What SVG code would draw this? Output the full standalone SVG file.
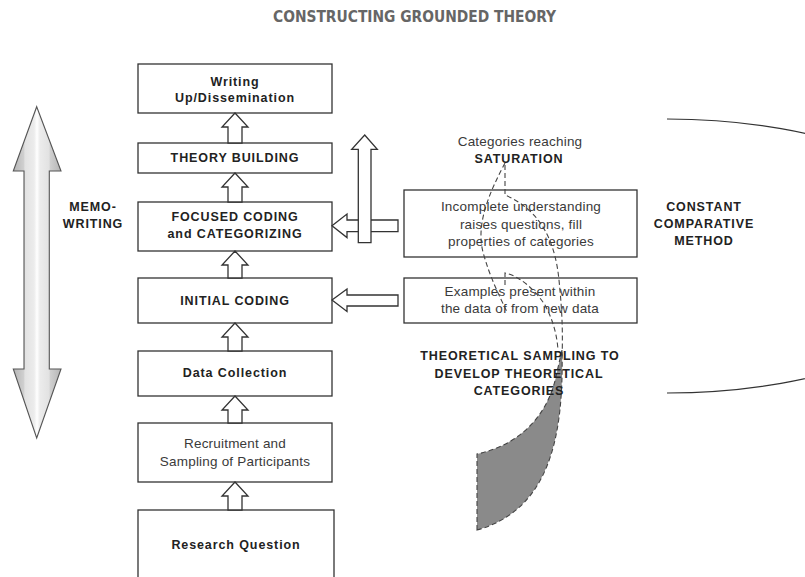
<svg xmlns="http://www.w3.org/2000/svg" width="805" height="577" viewBox="0 0 805 577">
<defs>
<linearGradient id="memoGrad" gradientUnits="userSpaceOnUse" x1="13" y1="0" x2="61" y2="0">
<stop offset="0" stop-color="#b4b4b4"/>
<stop offset="0.22" stop-color="#cfcfcf"/>
<stop offset="0.25" stop-color="#e2e2e2"/>
<stop offset="0.44" stop-color="#ececec"/>
<stop offset="0.5" stop-color="#ffffff"/>
<stop offset="0.56" stop-color="#ececec"/>
<stop offset="0.75" stop-color="#e2e2e2"/>
<stop offset="0.78" stop-color="#cfcfcf"/>
<stop offset="1" stop-color="#b4b4b4"/>
</linearGradient>
</defs>
<style>
.box{fill:#fff;stroke:#333;stroke-width:1.3}
.harrow{fill:#fff;stroke:#333;stroke-width:1.3;stroke-linejoin:miter}
.b{font-family:"Liberation Sans",Arial,sans-serif;font-weight:bold;font-size:12.5px;letter-spacing:0.9px;fill:#222;text-anchor:middle}
.r{font-family:"Liberation Sans",Arial,sans-serif;font-size:13.5px;fill:#3a3a3a;text-anchor:middle;letter-spacing:0.2px}
.dash{fill:none;stroke:#444;stroke-width:1.1;stroke-dasharray:5,3}
.title{font-family:"DejaVu Sans Condensed","DejaVu Sans",sans-serif;font-stretch:condensed;font-weight:bold;font-size:16px;fill:#666;text-anchor:middle}
</style>
<rect width="805" height="577" fill="#fff"/>
<text class="title" x="414.5" y="22" textLength="283" lengthAdjust="spacingAndGlyphs">CONSTRUCTING GROUNDED THEORY</text>

<g id="memo-arrow">
<path d="M36.7,106.7 L61,171 L49.3,171 L49.3,369 L61,369 L36.7,438 L13.3,369 L24,369 L24,171 L13.3,171 Z" fill="url(#memoGrad)" stroke="#555" stroke-width="1.1"/>
<text class="b" x="93" y="211">MEMO-</text>
<text class="b" x="93" y="228">WRITING</text>
</g>

<g id="n-writing"><rect class="box" x="138" y="64" width="194" height="49"/>
<text class="b" x="235" y="86">Writing</text><text class="b" x="235" y="102">Up/Dissemination</text></g>
<g id="n-theory"><rect class="box" x="138" y="143" width="194" height="30"/>
<text class="b" x="235" y="162">THEORY BUILDING</text></g>
<g id="n-focused"><rect class="box" x="138" y="202" width="194" height="49"/>
<text class="b" x="235" y="221">FOCUSED CODING</text><text class="b" x="235" y="238">and CATEGORIZING</text></g>
<g id="n-initial"><rect class="box" x="138" y="278" width="194" height="45"/>
<text class="b" x="235" y="305">INITIAL CODING</text></g>
<g id="n-data"><rect class="box" x="138" y="351" width="194" height="45"/>
<text class="b" x="235" y="377">Data Collection</text></g>
<g id="n-recruit"><rect class="box" x="138" y="423" width="194" height="59"/>
<text class="r" x="235" y="448">Recruitment and</text><text class="r" x="235" y="466">Sampling of Participants</text></g>
<g id="n-research"><rect class="box" x="138" y="510" width="196" height="70"/>
<text class="b" x="236" y="549">Research Question</text></g>

<g id="n-incomplete"><rect class="box" x="404" y="190" width="233" height="67"/>
<text class="r" x="521" y="211">Incomplete understanding</text>
<text class="r" x="521" y="228.5">raises questions, fill</text>
<text class="r" x="521" y="245.5">properties of categories</text></g>
<g id="n-examples"><rect class="box" x="404" y="278" width="233" height="45"/>
<text class="r" x="520" y="296">Examples present within</text>
<text class="r" x="520" y="313">the data of from new data</text></g>

<g id="connectors">
<path class="harrow" d="M235,113 L248,127 L242,127 L242,143 L228,143 L228,127 L222,127 Z"/>
<path class="harrow" d="M235,173 L248,187 L242,187 L242,202 L228,202 L228,187 L222,187 Z"/>
<path class="harrow" d="M235,251 L248,265 L242,265 L242,278 L228,278 L228,265 L222,265 Z"/>
<path class="harrow" d="M235,323 L248,337 L242,337 L242,351 L228,351 L228,337 L222,337 Z"/>
<path class="harrow" d="M235,396 L248,410 L242,410 L242,423 L228,423 L228,410 L222,410 Z"/>
<path class="harrow" d="M235,482 L248,496 L242,496 L242,510 L228,510 L228,496 L222,496 Z"/>
<path class="harrow" d="M332,225.8 L347,214 L347,220 L398,220 L398,231.7 L347,231.7 L347,237.6 Z"/>
<path class="harrow" d="M364.7,135 L377.3,149.3 L371,149.3 L371,242.7 L358.3,242.7 L358.3,149.3 L351.7,149.3 Z"/>
<path class="harrow" d="M332,300 L347,289 L347,295 L398,295 L398,306 L347,306 L347,311.5 Z"/>
</g>

<g id="sampling">
<path d="M477,530 L477,454 C515,446 548,420 557,372 L562,350 C564,440 548,510 477,530 Z" fill="#8a8a8a" stroke="#444" stroke-width="1.1" stroke-dasharray="5,3"/>
<path class="dash" d="M505,163 C488,195 476,225 483,252 C490,278 500,297 507,312"/>
<path class="dash" d="M505,165 L505,195 C540,210 555,240 559,280 C562,310 563,330 562,360"/>
<path class="dash" d="M505,285 L505,273 C520,276 535,290 545,305 C553,320 557,335 558,350"/>
<text class="r" x="520" y="145.5">Categories reaching</text>
<text class="b" x="519" y="162.5">SATURATION</text>
<text class="b" x="520" y="360">THEORETICAL SAMPLING TO</text>
<text class="b" x="519" y="378">DEVELOP THEORETICAL</text>
<text class="b" x="519" y="395">CATEGORIES</text>
</g>

<g id="constant">
<path d="M667,119 A310,137 0 0 1 667,393" fill="none" stroke="#333" stroke-width="1.1"/>
<text class="b" x="704" y="211">CONSTANT</text>
<text class="b" x="704" y="228">COMPARATIVE</text>
<text class="b" x="704" y="245">METHOD</text>
</g>
</svg>
